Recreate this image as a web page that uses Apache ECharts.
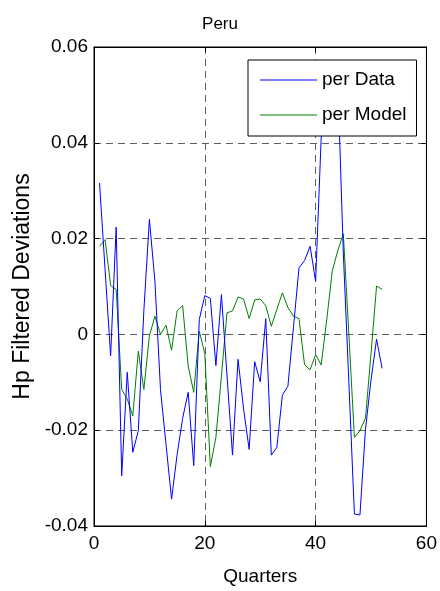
<!DOCTYPE html>
<html>
<head>
<meta charset="utf-8">
<script src="https://cdn.jsdelivr.net/npm/echarts@6/dist/echarts.min.js"></script>
<style>
  html, body { margin: 0; padding: 0; background: #fff; }
  #chart { width: 440px; height: 591px; }
</style>
</head>
<body>
<div id="chart"></div>
<script>
// Quarter index along the x axis
const quarters = [1, 2, 3, 4, 5, 6, 7, 8, 9, 10, 11, 12, 13, 14, 15, 16, 17, 18, 19, 20,
  21, 22, 23, 24, 25, 26, 27, 28, 29, 30, 31, 32, 33, 34, 35, 36, 37, 38, 39, 40,
  41, 42, 43, 44, 45, 46, 47, 48, 49, 50, 51, 52];

// HP-filtered deviations, observed series
const perData = [0.0316, 0.0135, -0.0045, 0.0224, -0.0295, -0.0079, -0.0246, -0.0201, 0.0050, 0.0240,
  0.0110, -0.0115, -0.0230, -0.0344, -0.0251, -0.0175, -0.0121, -0.0274, 0.0031, 0.0081,
  0.0075, -0.0065, 0.0083, -0.0085, -0.0252, -0.0052, -0.0156, -0.0240, -0.0057, -0.0099,
  0.0033, -0.0252, -0.0236, -0.0127, -0.0108, 0.0015, 0.0139, 0.0154, 0.0184, 0.0111,
  0.0410, 0.0500, 0.0570, 0.0530, 0.0170, -0.0100, -0.0375, -0.0377, -0.0198, -0.0095,
  -0.0010, -0.0071];

// HP-filtered deviations, model series
const perModel = [0.0184, 0.0198, 0.0102, 0.0094, -0.0115, -0.0135, -0.0170, -0.0035, -0.0115, -0.0003,
  0.0038, 0.0000, 0.0019, -0.0033, 0.0049, 0.0060, -0.0066, -0.0121, 0.0007, -0.0040,
  -0.0276, -0.0215, -0.0087, 0.0045, 0.0049, 0.0078, 0.0074, 0.0033, 0.0072, 0.0074,
  0.0060, 0.0017, 0.0052, 0.0087, 0.0056, 0.0038, 0.0033, -0.0063, -0.0074, -0.0042,
  -0.0064, 0.0030, 0.0132, 0.0175, 0.0210, 0.0000, -0.0215, -0.0201, -0.0175, -0.0040,
  0.0101, 0.0094];

// Axis ticks
const xTicks = [0, 20, 40, 60];
const yTicks = [-0.04, -0.02, 0, 0.02, 0.04, 0.06];
const yTickLabels = ['-0.04', '-0.02', '0', '0.02', '0.04', '0.06'];

const FONT = '"Liberation Sans", Arial, sans-serif';

const pairs = (vals) => quarters.map((q, i) => [q, vals[i]]);

const yLabel = (v) => {
  const idx = yTicks.findIndex(t => Math.abs(t - v) < 1e-9);
  return idx >= 0 ? yTickLabels[idx] : '';
};

const gridDash = { show: true, lineStyle: { color: '#5e5e5e', width: 1, type: [7, 5] } };

const chart = echarts.init(document.getElementById('chart'), null, { renderer: 'canvas' });

chart.setOption({
  animation: false,
  backgroundColor: '#ffffff',
  title: {
    text: 'Peru',
    left: 'center',
    top: 11,
    textStyle: { fontFamily: FONT, fontSize: 17, fontWeight: 'normal', color: '#000' }
  },
  legend: {
    orient: 'vertical',
    left: 248,
    top: 60,
    backgroundColor: '#ffffff',
    borderColor: '#000',
    borderWidth: 1,
    borderRadius: 0,
    padding: [9, 10, 10, 12],
    icon: 'rect',
    itemWidth: 57,
    itemHeight: 1,
    itemGap: 13,
    textStyle: { fontFamily: FONT, fontSize: 19, color: '#000', lineHeight: 22 },
    data: ['per Data', 'per Model']
  },
  grid: {
    left: 94, right: 13, top: 47, bottom: 63,
    show: true, borderColor: '#000', borderWidth: 1, backgroundColor: 'transparent'
  },
  xAxis: [{
    type: 'value',
    min: xTicks[0], max: xTicks[xTicks.length - 1], interval: 20,
    position: 'bottom',
    name: 'Quarters',
    nameLocation: 'middle',
    nameGap: 41,
    nameTextStyle: { fontFamily: FONT, fontSize: 19, color: '#000' },
    axisLine: { show: true, onZero: false, lineStyle: { color: '#000', width: 1 } },
    axisTick: { show: true, inside: true, length: 5, lineStyle: { color: '#000' } },
    axisLabel: { fontFamily: FONT, fontSize: 19, color: '#000', margin: 8 },
    splitLine: gridDash
  }, {
    type: 'value',
    min: xTicks[0], max: xTicks[xTicks.length - 1], interval: 20,
    position: 'top',
    axisLine: { show: true, onZero: false, lineStyle: { color: '#000', width: 1 } },
    axisTick: { show: true, inside: true, length: 5, lineStyle: { color: '#000' } },
    axisLabel: { show: false },
    splitLine: { show: false }
  }],
  yAxis: [{
    type: 'value',
    min: yTicks[0], max: yTicks[yTicks.length - 1], interval: 0.02,
    position: 'left',
    name: 'Hp Filtered Deviations',
    nameLocation: 'middle',
    nameGap: 53,
    nameRotate: 90,
    nameTextStyle: { fontFamily: FONT, fontSize: 23, color: '#000' },
    axisLine: { show: true, onZero: false, lineStyle: { color: '#000', width: 1 } },
    axisTick: { show: true, inside: true, length: 5, lineStyle: { color: '#000' } },
    axisLabel: { fontFamily: FONT, fontSize: 19, color: '#000', margin: 6, formatter: yLabel },
    splitLine: gridDash
  }, {
    type: 'value',
    min: yTicks[0], max: yTicks[yTicks.length - 1], interval: 0.02,
    position: 'right',
    axisLine: { show: true, onZero: false, lineStyle: { color: '#000', width: 1 } },
    axisTick: { show: true, inside: true, length: 5, lineStyle: { color: '#000' } },
    axisLabel: { show: false },
    splitLine: { show: false }
  }],
  series: [{
    name: 'per Data',
    type: 'line',
    xAxisIndex: 0, yAxisIndex: 0,
    data: pairs(perData),
    symbol: 'none',
    lineStyle: { color: '#0000ff', width: 1 },
    itemStyle: { color: '#0000ff' },
    z: 3
  }, {
    name: 'per Model',
    type: 'line',
    xAxisIndex: 0, yAxisIndex: 0,
    data: pairs(perModel),
    symbol: 'none',
    lineStyle: { color: '#008000', width: 1 },
    itemStyle: { color: '#008000' },
    z: 2
  }]
});
</script>
</body>
</html>
